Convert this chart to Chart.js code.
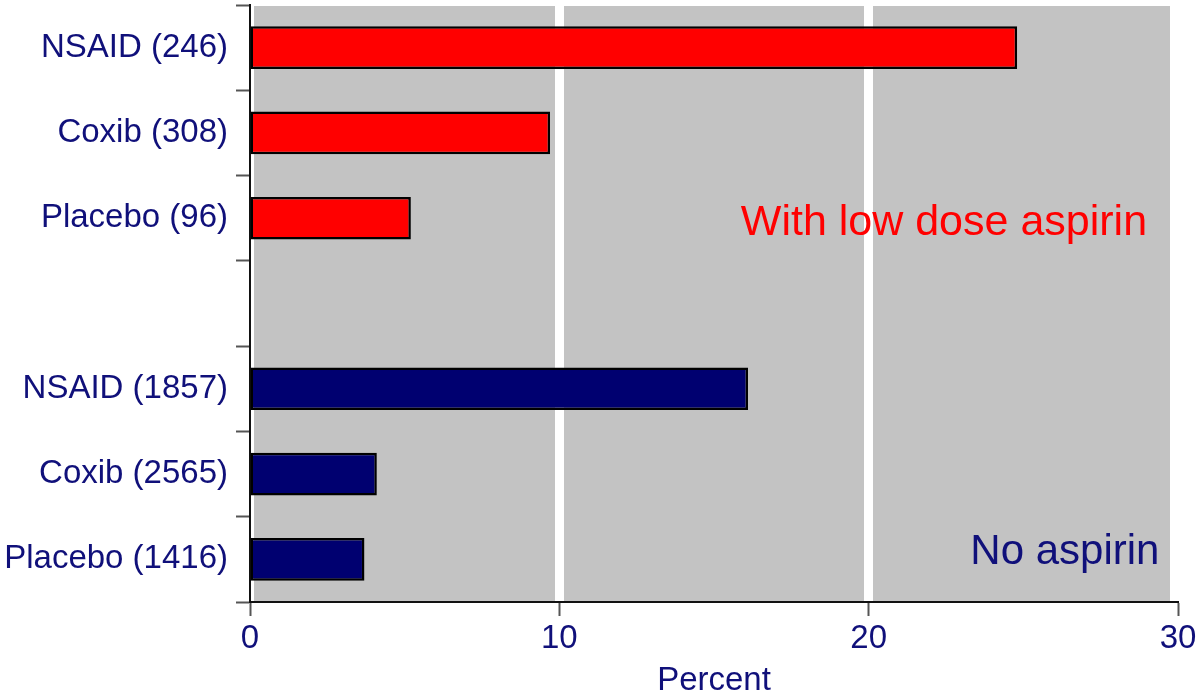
<!DOCTYPE html>
<html>
<head>
<meta charset="utf-8">
<script src="https://cdn.jsdelivr.net/npm/chart.js@4/dist/chart.umd.min.js"></script>
<style>
  html, body { margin: 0; padding: 0; background: #fff; }
  canvas { display: block; }
</style>
</head>
<body>
<canvas id="chart" width="1200" height="697"></canvas>
<script>
// categories top to bottom, '' is the spacer row between the two groups
const groups = ['NSAID (246)', 'Coxib (308)', 'Placebo (96)', '', 'NSAID (1857)', 'Coxib (2565)', 'Placebo (1416)'];
// percent values
const percentValues = [24.8, 9.7, 5.2, null, 16.1, 4.1, 3.7];
const barColors = ['#ff0000', '#ff0000', '#ff0000', '#ff0000', '#000070', '#000070', '#000070'];
const xTicks = [0, 10, 20, 30];

const navy = '#10107a';
const font = 'Liberation Sans, Arial, Helvetica, sans-serif';

// gray panel behind the bars
const panelBackground = {
  id: 'panelBackground',
  beforeDraw(chart) {
    const { ctx, chartArea } = chart;
    ctx.save();
    ctx.fillStyle = '#c3c3c3';
    ctx.fillRect(chartArea.left + 4, chartArea.top + 1, chartArea.width - 12, chartArea.height - 1);
    ctx.restore();
  }
};

// the two group captions
const groupCaptions = {
  id: 'groupCaptions',
  afterDatasetsDraw(chart) {
    const { ctx, scales } = chart;
    ctx.save();
    ctx.textAlign = 'right';
    ctx.textBaseline = 'middle';
    ctx.fillStyle = '#ff0000';
    ctx.font = '43px ' + font;
    ctx.fillText('With low dose aspirin', scales.x.getPixelForValue(29), scales.y.getPixelForValue(2) + 5);
    ctx.fillStyle = navy;
    ctx.font = '42px ' + font;
    ctx.fillText('No aspirin', scales.x.getPixelForValue(29.4), scales.y.getPixelForValue(6) - 7);
    ctx.restore();
  }
};

new Chart(document.getElementById('chart').getContext('2d'), {
  type: 'bar',
  data: {
    labels: groups,
    datasets: [{
      data: percentValues,
      backgroundColor: barColors,
      borderColor: '#000',
      borderWidth: 2.5,
      borderSkipped: false,
      barPercentage: 0.5,
      categoryPercentage: 1
    }]
  },
  options: {
    indexAxis: 'y',
    responsive: false,
    animation: false,
    layout: { padding: { top: 5, right: 22, left: 0, bottom: 0 } },
    plugins: {
      legend: { display: false },
      tooltip: { enabled: false }
    },
    scales: {
      x: {
        type: 'linear',
        min: 0,
        max: 30,
        afterBuildTicks: (scale) => { scale.ticks = xTicks.map((v) => ({ value: v })); },
        afterFit: (scale) => { scale.height = 95; },
        ticks: {
          color: navy,
          font: { family: font, size: 33 },
          padding: 3,
          maxRotation: 0
        },
        grid: {
          // white bands only at the inner ticks
          color: (c) => (c.tick && (c.tick.value === 0 || c.tick.value === 30)) ? 'rgba(0,0,0,0)' : '#ffffff',
          lineWidth: (c) => (c.tick && (c.tick.value === 0 || c.tick.value === 30)) ? 1 : 9,
          tickColor: '#555',
          tickWidth: 2,
          tickLength: 14
        },
        border: { display: true, color: '#111', width: 2 },
        title: {
          display: true,
          text: 'Percent',
          color: navy,
          font: { family: font, size: 33, lineHeight: 1.0 },
          padding: { top: 0, bottom: 0 }
        }
      },
      y: {
        type: 'category',
        offset: true,
        afterFit: (scale) => {
          scale.width = 250;
          scale.paddingTop = 0;
          scale.paddingBottom = 0;
        },
        ticks: {
          color: navy,
          font: { family: font, size: 33 },
          padding: 8
        },
        grid: {
          offset: true,
          drawOnChartArea: false,
          tickColor: '#555',
          tickWidth: 2,
          tickLength: 14
        },
        border: { display: true, color: '#111', width: 2 }
      }
    }
  },
  plugins: [panelBackground, groupCaptions]
});
</script>
</body>
</html>
